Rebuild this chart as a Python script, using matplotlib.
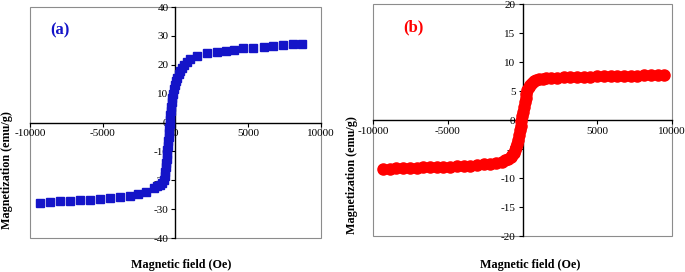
import matplotlib
matplotlib.use('Agg')
import matplotlib.pyplot as plt
from matplotlib.patches import Rectangle

plt.rcParams['font.family'] = 'Liberation Serif'
plt.rcParams['axes.unicode_minus'] = False

# panel (a): blue squares
field_a = [-9300, -8600, -7950, -7250, -6550, -5900, -5200, -4500, -3800, -3150,
           -2550, -2000, -1500, -1250, -1050, -900, -780, -720, -690, -660,
           -630, -600, -575, -550, -525, -500, -475, -450, -425, -405,
           -380, -350, -320, -290, -255, -215, -170, -120, -60, 30,
           120, 220, 330, 450, 600, 780, 1000, 1450, 2150, 2850,
           3500, 4000, 4650, 5350, 6050, 6700, 7400, 8100, 8700]
mag_a = [-28.0, -27.4, -27.2, -27.1, -26.9, -26.8, -26.6, -26.3, -25.9, -25.5,
         -24.8, -24.0, -22.8, -22.1, -21.5, -20.8, -19.8, -18.5, -17.0, -15.5,
         -14.0, -12.5, -11.0, -9.5, -8.0, -6.5, -5.0, -3.5, -2.0, -0.5,
         1.0, 2.5, 4.0, 5.5, 7.0, 8.5, 10.0, 11.5, 13.0, 14.3,
         15.5, 16.7, 17.9, 19.0, 20.0, 21.0, 21.9, 23.0, 24.0, 24.4,
         24.9, 25.3, 25.7, 25.9, 26.3, 26.5, 26.7, 27.1, 27.3]

# panel (b): red circles
field_b = [-9350, -8900, -8450, -8000, -7550, -7100, -6650, -6200, -5750, -5300,
           -4850, -4400, -3950, -3500, -3050, -2600, -2150, -1750, -1400, -1150,
           -950, -800, -680, -580, -490, -420, -360, -300, -240, -185,
           -130, -75, -20, 35, 90, 145, 200, 260, 330, 410,
           500, 610, 740, 900, 1100, 1350, 1600, 1900, 2300, 2750,
           3200, 3650, 4100, 4550, 5000, 5450, 5900, 6350, 6800, 7250,
           7700, 8150, 8600, 9050, 9450]
mag_b = [-8.3, -8.3, -8.25, -8.2, -8.2, -8.15, -8.1, -8.1, -8.05, -8.0,
         -8.0, -7.9, -7.85, -7.8, -7.7, -7.6, -7.45, -7.3, -7.1, -6.85,
         -6.6, -6.3, -5.95, -5.55, -5.1, -4.6, -4.0, -3.3, -2.5, -1.7,
         -0.9, -0.1, 0.7, 1.5, 2.3, 3.1, 3.9, 4.6, 5.2, 5.7,
         6.1, 6.45, 6.75, 6.95, 7.1, 7.2, 7.25, 7.3, 7.35, 7.4,
         7.45, 7.5, 7.5, 7.55, 7.6, 7.6, 7.65, 7.65, 7.7, 7.7,
         7.7, 7.75, 7.75, 7.8, 7.8]

x_ticks = [-10000, -5000, 0, 5000, 10000]


def style_axes(ax, ylim, ystep):
    ax.set_xlim(-10000, 10000)
    ax.set_ylim(-ylim, ylim)
    ax.set_xticks(x_ticks)
    ax.set_yticks(range(-ylim, ylim + 1, ystep))
    for side in ['top', 'right']:
        ax.spines[side].set_visible(False)
    for side in ['left', 'bottom']:
        ax.spines[side].set_position(('data', 0))
        ax.spines[side].set_color('black')
        ax.spines[side].set_linewidth(1.0)
    ax.add_patch(Rectangle((0, 0), 1, 1, transform=ax.transAxes, fill=False,
                           edgecolor='#8c8c8c', linewidth=0.8, clip_on=False))
    ax.tick_params(direction='out', length=3, width=0.8, labelsize=8, pad=2)


def main():
    fig = plt.figure(figsize=(6.85, 2.72), dpi=100)

    ax1 = fig.add_axes([0.0438, 0.125, 0.4248, 0.849])
    ax1.plot(field_a, mag_a, linestyle='none', marker='s', markersize=5.8,
             color='#1414c8', zorder=3, clip_on=False)
    style_axes(ax1, 40, 10)
    ax1.text(0.07, 0.88, '(a)', transform=ax1.transAxes, color='#1414c8',
             fontsize=12, fontweight='bold')

    ax2 = fig.add_axes([0.545, 0.131, 0.4356, 0.853])
    ax2.plot(field_b, mag_b, linestyle='none', marker='o', markersize=8,
             color='#ff0000', zorder=3, clip_on=False)
    style_axes(ax2, 20, 5)
    ax2.text(0.10, 0.885, '(b)', transform=ax2.transAxes, color='#ff0000',
             fontsize=12, fontweight='bold')

    fig.text(0.010, 0.375, 'Magnetization (emu/g)', rotation=90, fontsize=8.7,
             fontweight='bold', ha='center', va='center')
    fig.text(0.264, 0.026, 'Magnetic field (Oe)', fontsize=8.7,
             fontweight='bold', ha='center', va='center')
    fig.text(0.514, 0.355, 'Magnetization (emu/g)', rotation=90, fontsize=8.7,
             fontweight='bold', ha='center', va='center')
    fig.text(0.774, 0.026, 'Magnetic field (Oe)', fontsize=8.7,
             fontweight='bold', ha='center', va='center')

    fig.savefig('out.png', dpi=100)


if __name__ == '__main__':
    main()
